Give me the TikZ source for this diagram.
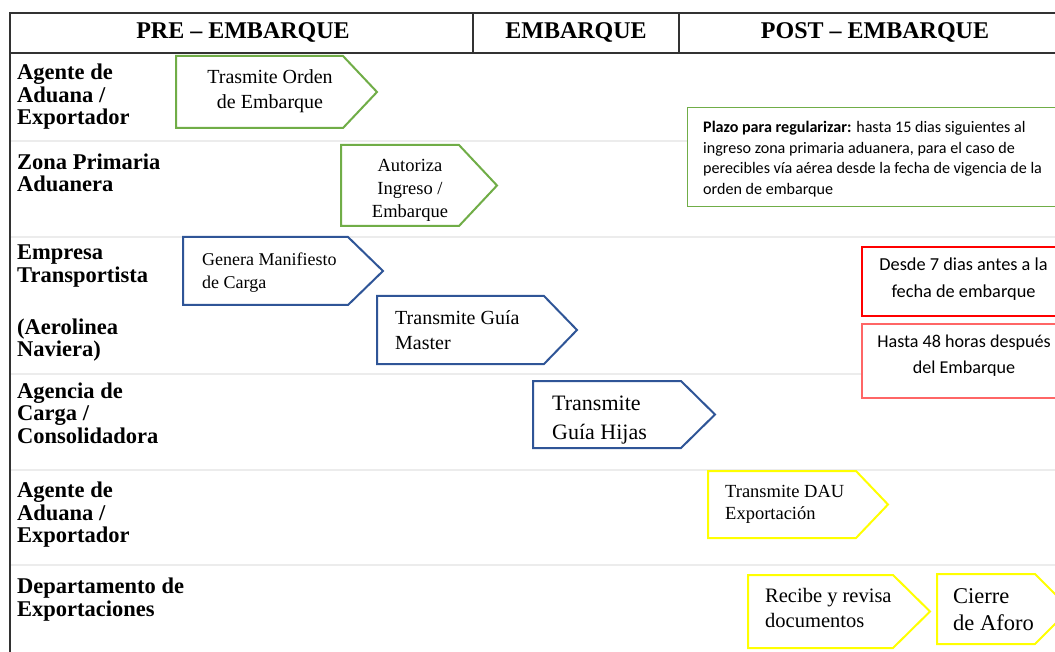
\documentclass[tikz,border=0pt]{standalone}
\usepackage{fontspec}
\setmainfont{Liberation Serif}
\newfontfamily\calibri{Carlito}
\usepackage{tikz}

\definecolor{stepgreen}{RGB}{112,173,71}
\definecolor{stepblue}{RGB}{47,85,151}
\definecolor{stepyellow}{RGB}{255,255,0}
\definecolor{notered}{RGB}{255,0,0}
\definecolor{notepink}{RGB}{255,102,102}
\definecolor{lanegray}{RGB}{236,236,236}
\definecolor{rulegray}{RGB}{50,50,50}

% chevron: colour, left, top, body right, tip, bottom
\newcommand{\chevron}[6]{%
  \draw[chev, draw=#1] (#2,#3) -- (#4,#3) -- (#5,{(#3+#6)/2}) -- (#4,#6) -- (#2,#6) -- cycle;}

\begin{document}
\begin{tikzpicture}[x=1pt, y=-1pt,
    chev/.style={line width=2pt, fill=white, line join=miter},
    lane/.style={draw=lanegray, line width=1.5pt},
    hdrline/.style={draw=rulegray, line width=2pt},
    hdr/.style={font=\bfseries\fontsize{24}{28}\selectfont, inner sep=0pt},
    lbl/.style={font=\bfseries\fontsize{22.5}{22.5}\selectfont, align=left, anchor=north west, inner sep=0pt},
    steptext/.style={inner sep=0pt, align=left, anchor=north west},
    notetext/.style={font=\calibri, inner sep=0pt}]

  \useasboundingbox (0,0) rectangle (1055,652);
  \clip (0,0) rectangle (1055,652);

  % lanes
  \foreach \y in {141,237,374,470,565}
    \draw[lane] (11,\y) -- (1055,\y);

  % header
  \draw[hdrline] (10,13.5) rectangle (1075,53);
  \draw[hdrline] (473,13.5) -- (473,53);
  \draw[hdrline] (679,13.5) -- (679,53);
  \draw[hdrline] (10,53) -- (10,660);
  \node[hdr] (hpre) at (243,33) {PRE -- EMBARQUE};
  \node[hdr] (hemb) at (576,33) {EMBARQUE};
  \node[hdr] (hpost) at (875,33) {POST -- EMBARQUE};

  % actors
  \node[lbl] (lagente) at (17,64) {Agente de\\Aduana /\\Exportador};
  \node[lbl] (lzona) at (17,153.5) {Zona Primaria\\Aduanera};
  \node[lbl] (lempresa) at (17,245) {Empresa\\Transportista};
  \node[lbl] (laerolinea) at (17,318.5) {(Aerolinea\\Naviera)};
  \node[lbl] (lagencia) at (17,382.5) {Agencia de\\Carga /\\Consolidadora};
  \node[lbl] (lagentedau) at (17,482) {Agente de\\Aduana /\\Exportador};
  \node[lbl] (ldepto) at (17,578) {Departamento de\\Exportaciones};

  % steps
  \chevron{stepgreen}{176}{56}{343}{377}{128}
  \node[steptext, anchor=north, align=center, font=\fontsize{20}{25}\selectfont] (orden) at (270,69) {Trasmite Orden\\de Embarque};

  \chevron{stepgreen}{341}{145}{459}{497}{226}
  \node[steptext, anchor=north, align=center, font=\fontsize{18.5}{23}\selectfont] (autoriza) at (410,159) {Autoriza\\Ingreso /\\Embarque};

  \chevron{stepblue}{183}{237}{348}{383}{305}
  \node[steptext, font=\fontsize{18}{23}\selectfont] (manifiesto) at (202,253) {Genera Manifiesto\\de Carga};

  \chevron{stepblue}{377}{296}{544}{577}{364}
  \node[steptext, font=\fontsize{20}{25.5}\selectfont] (master) at (395,310) {Transmite Guía\\Master};

  \chevron{stepblue}{533}{381}{681}{715}{448}
  \node[steptext, font=\fontsize{22}{29}\selectfont] (hijas) at (552,395.5) {Transmite\\Guía Hijas};

  \chevron{stepyellow}{708}{471}{856}{888}{538}
  \node[steptext, font=\fontsize{18.5}{22}\selectfont] (dau) at (725,485) {Transmite DAU\\Exportación};

  \chevron{stepyellow}{748}{575}{893}{930}{648}
  \node[steptext, font=\fontsize{20.5}{25}\selectfont] (recibe) at (765,588) {Recibe y revisa\\documentos};

  \chevron{stepyellow}{937}{574}{1035}{1070}{644}
  \node[steptext, font=\fontsize{22.5}{27}\selectfont] (cierre) at (953,588) {Cierre\\de Aforo};

  % deadlines
  \draw[draw=stepgreen, line width=1pt, fill=white] (687,108) rectangle (1075,207);
  \node[notetext, anchor=north west, align=left, font=\calibri\fontsize{16.1}{20.7}\selectfont] (plazo) at (703,121)
    {\textbf{Plazo para regularizar:} hasta 15 dias siguientes al\\ingreso zona primaria aduanera, para el caso de\\perecibles vía aérea desde la fecha de vigencia de la\\orden de embarque};

  \draw[draw=notered, line width=1.2pt, fill=white] (862,247) rectangle (1075,316);
  \node[notetext, anchor=north, align=center, font=\calibri\fontsize{18.3}{27}\selectfont] (desde) at (963.5,258) {Desde 7 dias antes a la\\fecha de embarque};

  \draw[draw=notepink, line width=1.2pt, fill=white] (862,324) rectangle (1075,398);
  \node[notetext, anchor=north, align=center, font=\calibri\fontsize{18.1}{26}\selectfont] (hasta) at (964,335) {Hasta 48 horas después\\del Embarque};
\end{tikzpicture}
\end{document}
